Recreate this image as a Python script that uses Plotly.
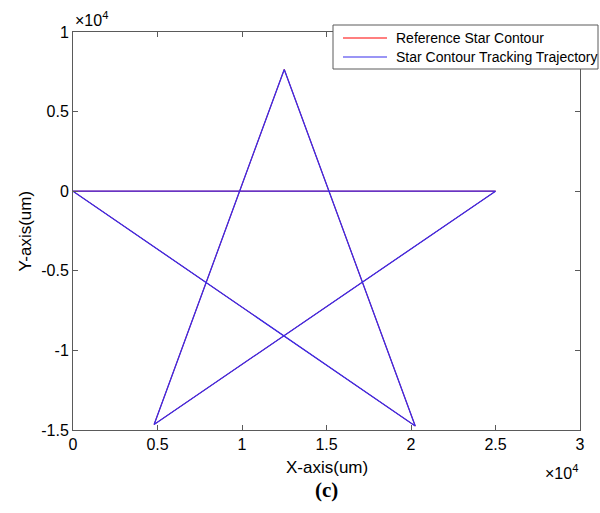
import plotly.graph_objects as go

# Star contour vertices (um), closed path
ref_x = [0, 25000, 4800, 12500, 20250, 0]
ref_y = [0, 0, -14650, 7650, -14750, 0]

# Tracking trajectory follows the reference contour
trk_x = [0, 25000, 4800, 12500, 20250, 0]
trk_y = [0, 0, -14650, 7650, -14750, 0]

x_ticks = [0, 5000, 10000, 15000, 20000, 25000, 30000]
x_tick_text = ["0", "0.5", "1", "1.5", "2", "2.5", "3"]
y_ticks = [-15000, -10000, -5000, 0, 5000, 10000]
y_tick_text = ["-1.5", "-1", "-0.5", "0", "0.5", "1"]

series_names = ["Reference Star Contour", "Star Contour Tracking Trajectory"]
series_colors = ["#ff0000", "rgb(55,45,235)"]

FONT = "Liberation Sans, Arial, sans-serif"
AXIS_COLOR = "#5a5a5a"

# Plot-area geometry in pixels, used to place the legend box
W, H = 600, 513
ML, MR, MT, MB = 73, 20, 32, 83
PW, PH = W - ML - MR, H - MT - MB


def px_x(px):
    return (px - ML) / PW


def px_y(py):
    return (H - MB - py) / PH


fig = go.Figure()
fig.add_trace(go.Scatter(x=ref_x, y=ref_y, mode="lines", name=series_names[0],
                         line=dict(color=series_colors[0], width=1.0), showlegend=False))
fig.add_trace(go.Scatter(x=trk_x, y=trk_y, mode="lines", name=series_names[1],
                         line=dict(color=series_colors[1], width=1.3), showlegend=False))

axis_common = dict(showgrid=False, zeroline=False, showline=True, linecolor=AXIS_COLOR,
                   linewidth=1, mirror="ticks", ticks="inside", ticklen=5,
                   tickcolor=AXIS_COLOR, tickfont=dict(family=FONT, size=16, color="#000"))

shapes = [
    dict(type="rect", xref="paper", yref="paper",
         x0=px_x(333), x1=px_x(598), y0=px_y(69), y1=px_y(25),
         line=dict(color=AXIS_COLOR, width=1), fillcolor="white", layer="above"),
]
annotations = []
for i, (name, color) in enumerate(zip(series_names, series_colors)):
    row_y = 38 + 19 * i
    shapes.append(dict(type="line", xref="paper", yref="paper",
                       x0=px_x(343), x1=px_x(387), y0=px_y(row_y), y1=px_y(row_y),
                       line=dict(color=color, width=1.2), layer="above"))
    annotations.append(dict(text=name, xref="paper", yref="paper",
                            x=px_x(394), y=px_y(row_y), xanchor="left", yanchor="middle",
                            showarrow=False, font=dict(family=FONT, size=14, color="#000")))

annotations += [
    dict(text="X-axis(um)", xref="paper", yref="paper", x=0.5, y=0, yshift=-37,
         xanchor="center", yanchor="middle", showarrow=False,
         font=dict(family=FONT, size=17)),
    dict(text="Y-axis(um)", xref="paper", yref="paper", x=px_x(24.5), y=0.5,
         xanchor="center", yanchor="middle", textangle=-90, showarrow=False,
         font=dict(family=FONT, size=17)),
    dict(text="×10<sup>4</sup>", xref="paper", yref="paper", x=0.0, y=1.0, yshift=13,
         xanchor="left", yanchor="middle", showarrow=False,
         font=dict(family=FONT, size=16)),
    dict(text="×10<sup>4</sup>", xref="paper", yref="paper", x=1.0, y=0, yshift=-42,
         xanchor="right", yanchor="middle", showarrow=False,
         font=dict(family=FONT, size=16)),
    dict(text="<b>(c)</b>", xref="paper", yref="paper", x=0.5, y=0, yshift=-60,
         xanchor="center", yanchor="middle", showarrow=False,
         font=dict(family="Liberation Serif, Times New Roman, serif", size=21)),
]

fig.update_layout(
    width=W, height=H,
    margin=dict(l=ML, r=MR, t=MT, b=MB),
    paper_bgcolor="white", plot_bgcolor="white",
    font=dict(family=FONT, color="#000"),
    xaxis=dict(range=[0, 30000], tickvals=x_ticks, ticktext=x_tick_text, **axis_common),
    yaxis=dict(range=[-15000, 10000], tickvals=y_ticks, ticktext=y_tick_text, **axis_common),
    showlegend=False,
    shapes=shapes,
    annotations=annotations,
)

fig.write_html("out.html")
